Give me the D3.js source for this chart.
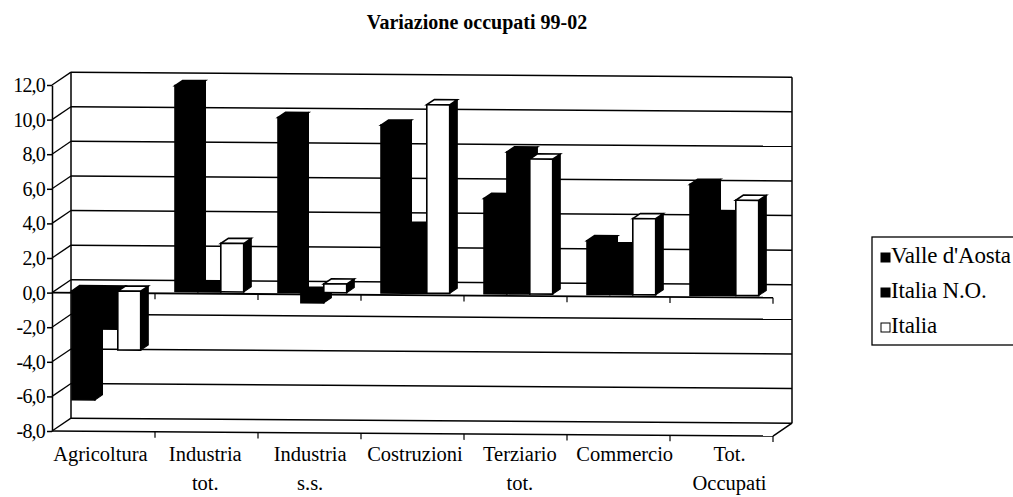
<!DOCTYPE html>
<html lang="it">
<head>
<meta charset="utf-8">
<title>Variazione occupati 99-02</title>
<script src="https://cdn.jsdelivr.net/npm/d3@7"></script>
<style>
  body { margin: 0; background: #fff; }
  svg { display: block; font-family: "Liberation Serif", "DejaVu Serif", serif; }
</style>
</head>
<body>
<script>
// data
var categories = ["Agricoltura", "Industria tot.", "Industria s.s.", "Costruzioni",
                  "Terziario tot.", "Commercio", "Tot. Occupati"];
var catLines = [["Agricoltura"], ["Industria", "tot."], ["Industria", "s.s."], ["Costruzioni"],
                ["Terziario", "tot."], ["Commercio"], ["Tot.", "Occupati"]];
var series = ["Valle d'Aosta", "Italia N.O.", "Italia"];
var valle    = [-6.3, 11.9, 10.1, 9.7, 5.5, 3.1, 6.4];
var italiaNO = [-2.2, 0.3, -0.6, 3.8, 8.2, 2.7, 4.6];
var italia   = [-3.4, 2.8, 0.5, 10.9, 7.8, 4.4, 5.5];
var yTicks = [-8, -6, -4, -2, 0, 2, 4, 6, 8, 10, 12];
var colors = ["#000", "#000", "#fff"];

var values = [valle, italiaNO, italia];

var W = 1013, H = 497;
var svg = d3.select("body").append("svg").attr("width", W).attr("height", H);

// depth of the 3d box (wall) and placement of bars inside it
var DX = 19, DY = -13;
var f0 = 0.15, f1 = 0.55;

var y = d3.scaleLinear().domain([-8, 12]).range([431, 85]);
var x0 = d3.scaleBand().domain(categories).range([52, 773]);
var gap = x0.bandwidth() * 1.5 / 4.5;
var x1 = d3.scaleBand().domain(series).range([gap / 2, x0.bandwidth() - gap / 2]);

svg.append("text")
  .attr("x", 477).attr("y", 29)
  .attr("text-anchor", "middle")
  .attr("font-size", 20).attr("font-weight", "bold")
  .text("Variazione occupati 99-02");

// the plot, tilted a little like the original
var plot = svg.append("g").attr("transform", "translate(52,0) skewY(0.4) translate(-52,0)");

var xl = x0.range()[0], xr = x0.range()[1];

// back wall gridlines
plot.selectAll("line.grid").data(yTicks).enter().append("line")
  .attr("x1", xl + DX).attr("x2", xr + DX)
  .attr("y1", function(d) { return y(d) + DY; })
  .attr("y2", function(d) { return y(d) + DY; })
  .attr("stroke", "#000").attr("stroke-width", 1.5);

// left wall diagonals
plot.selectAll("line.side").data(yTicks).enter().append("line")
  .attr("x1", xl).attr("x2", xl + DX)
  .attr("y1", function(d) { return y(d); })
  .attr("y2", function(d) { return y(d) + DY; })
  .attr("stroke", "#000").attr("stroke-width", 1.3);

// wall edges
var edges = [
  [[xl + DX, y(12) + DY], [xl + DX, y(-8) + DY]],
  [[xr + DX, y(12) + DY], [xr + DX, y(-8) + DY]],
  [[xl, y(-8)], [xr, y(-8)]],
  [[xr, y(-8)], [xr + DX, y(-8) + DY]]
];
plot.selectAll("path.edge").data(edges).enter().append("path")
  .attr("d", function(d) { return d3.line()(d); })
  .attr("fill", "none").attr("stroke", "#000").attr("stroke-width", 1.5);

// category axis at zero, and ticks on zero line and floor
plot.append("line")
  .attr("x1", xl).attr("x2", xr).attr("y1", y(0)).attr("y2", y(0))
  .attr("stroke", "#000").attr("stroke-width", 1.8);
var bounds = categories.map(function(c) { return x0(c); }).concat([xr]);
[0, -8].forEach(function(v) {
  plot.selectAll(null).data(bounds.slice(1)).enter().append("line")
    .attr("x1", function(d) { return d; }).attr("x2", function(d) { return d; })
    .attr("y1", y(v)).attr("y2", y(v) + 6)
    .attr("stroke", "#000").attr("stroke-width", 1.2);
});

// bars
var bx = DX * (f1 - f0), by = DY * (f1 - f0);
var bars = [];
categories.forEach(function(c, i) {
  series.forEach(function(s, j) {
    bars.push({ c: c, s: s, j: j, v: values[j][i] });
  });
});

var g = plot.selectAll("g.bar").data(bars).enter().append("g");
function geo(d) {
  var left = x0(d.c) + x1(d.s) + DX * f0;
  var w = x1.bandwidth();
  var yt = y(Math.max(d.v, 0)) + DY * f0;
  var yb = y(Math.min(d.v, 0)) + DY * f0;
  return { l: left, r: left + w, t: yt, b: yb };
}
g.append("path") // side
  .attr("d", function(d) {
    var q = geo(d);
    return d3.line()([[q.r, q.t], [q.r + bx, q.t + by], [q.r + bx, q.b + by], [q.r, q.b]]) + "Z";
  })
  .attr("fill", "#000").attr("stroke", "#000").attr("stroke-width", 1);
g.append("path") // top
  .attr("d", function(d) {
    var q = geo(d);
    return d3.line()([[q.l, q.t], [q.l + bx, q.t + by], [q.r + bx, q.t + by], [q.r, q.t]]) + "Z";
  })
  .attr("fill", function(d) { return colors[d.j]; })
  .attr("stroke", "#000").attr("stroke-width", 1.6);
g.append("rect") // front
  .attr("x", function(d) { return geo(d).l; })
  .attr("y", function(d) { return geo(d).t; })
  .attr("width", x1.bandwidth())
  .attr("height", function(d) { var q = geo(d); return Math.max(q.b - q.t, 0.5); })
  .attr("fill", function(d) { return colors[d.j]; })
  .attr("stroke", "#000").attr("stroke-width", 1.6);

// front value axis
var yAxis = d3.axisLeft(y).tickValues(yTicks).tickSize(5).tickSizeOuter(0).tickPadding(2)
  .tickFormat(function(d) { return d.toFixed(1).replace(".", ","); });
var ga = svg.append("g").attr("transform", "translate(" + xl + ",0)").call(yAxis);
ga.selectAll("path, line").attr("stroke", "#000").attr("stroke-width", 1.5);
ga.selectAll("text").attr("font-size", 20).attr("fill", "#000")
  .attr("font-family", "Liberation Serif").attr("letter-spacing", -0.8);

// category labels
var xLab = x0.copy().range([48, 782]);
var lab = svg.selectAll("text.cat").data(categories).enter().append("text")
  .attr("text-anchor", "middle").attr("font-size", 20.5);
lab.each(function(c, i) {
  var t = d3.select(this);
  catLines[i].forEach(function(line, k) {
    t.append("tspan")
      .attr("x", xLab(c) + xLab.bandwidth() / 2)
      .attr("y", 461 + k * 29)
      .text(line);
  });
});

// legend
var lg = svg.append("g").attr("transform", "translate(872,237)");
lg.append("rect").attr("width", 160).attr("height", 108)
  .attr("fill", "#fff").attr("stroke", "#000").attr("stroke-width", 1.3);
var li = lg.selectAll("g.item").data(series).enter().append("g")
  .attr("transform", function(d, i) { return "translate(9," + (16 + i * 35) + ")"; });
li.append("rect").attr("width", 9).attr("height", 9)
  .attr("fill", function(d, i) { return colors[i]; })
  .attr("stroke", "#000").attr("stroke-width", 1);
li.append("text").attr("x", 10).attr("y", 10)
  .attr("font-size", 23).attr("letter-spacing", -0.2)
  .text(function(d) { return d; });
</script>
</body>
</html>
